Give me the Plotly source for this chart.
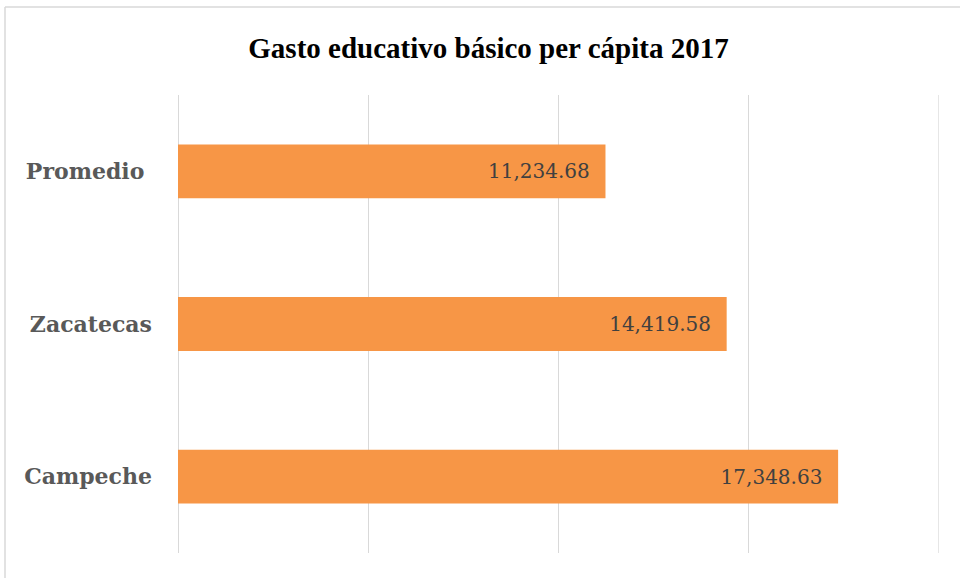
import plotly.graph_objects as go

categories = ["Campeche", "Zacatecas", "Promedio\u00a0"]
values = [17348.63, 14419.58, 11234.68]
title_text = "Gasto educativo básico per cápita 2017"
x_ticks = [0, 5000, 10000, 15000, 20000]

W, H = 960, 578
L, R, T, B = 178, 21, 95, 25
pw, ph = W - L - R, H - T - B

def px_x(px):
    return (px - L) / pw

def px_y(py):
    return (H - B - py) / ph

fig = go.Figure(go.Bar(
    x=values, y=categories, orientation="h",
    marker=dict(color="#F79646", line=dict(width=0)),
    text=[f"{v:,.2f}" for v in values],
    texttemplate="%{text}\u00a0\u00a0",
    textposition="inside", insidetextanchor="end",
    constraintext="none",
    textfont=dict(family="DejaVu Serif", size=20, color="#404040"),
    hoverinfo="skip",
))

shapes = [
    dict(type="line", xref="paper", yref="paper",
         x0=px_x(5), x1=px_x(962), y0=px_y(7), y1=px_y(7),
         line=dict(color="#D9D9D9", width=1.5)),
    dict(type="line", xref="paper", yref="paper",
         x0=px_x(5), x1=px_x(5), y0=px_y(7), y1=px_y(580),
         line=dict(color="#D9D9D9", width=1.5)),
    dict(type="line", xref="x", yref="paper", layer="below",
         x0=x_ticks[-1], x1=x_ticks[-1], y0=0, y1=1,
         line=dict(color="#D9D9D9", width=1.3)),
]

fig.update_layout(
    width=W, height=H,
    margin=dict(l=L, r=R, t=T, b=B),
    paper_bgcolor="white", plot_bgcolor="white",
    bargap=0.647,
    showlegend=False,
    title=dict(text="<b>" + title_text + "</b>", x=(246 + 731) / 2 / W, xanchor="center",
               y=1 - 48 / H, yanchor="middle",
               font=dict(family="Liberation Serif", size=29, color="black")),
    xaxis=dict(range=[0, 20000], tickvals=x_ticks, showticklabels=False,
               showgrid=True, gridcolor="#D9D9D9", gridwidth=1.3,
               zeroline=True, zerolinecolor="#D9D9D9", zerolinewidth=1.3,
               showline=False, fixedrange=True),
    yaxis=dict(showgrid=False, zeroline=False, showline=False,
               ticks="", ticklabelstandoff=25, fixedrange=True,
               tickfont=dict(family="DejaVu Serif", size=22, color="#595959", weight="bold")),
    shapes=shapes,
)

fig.write_html("out.html", config={"displayModeBar": False},
               post_script="document.body.style.margin='0';document.body.style.overflow='hidden';")
